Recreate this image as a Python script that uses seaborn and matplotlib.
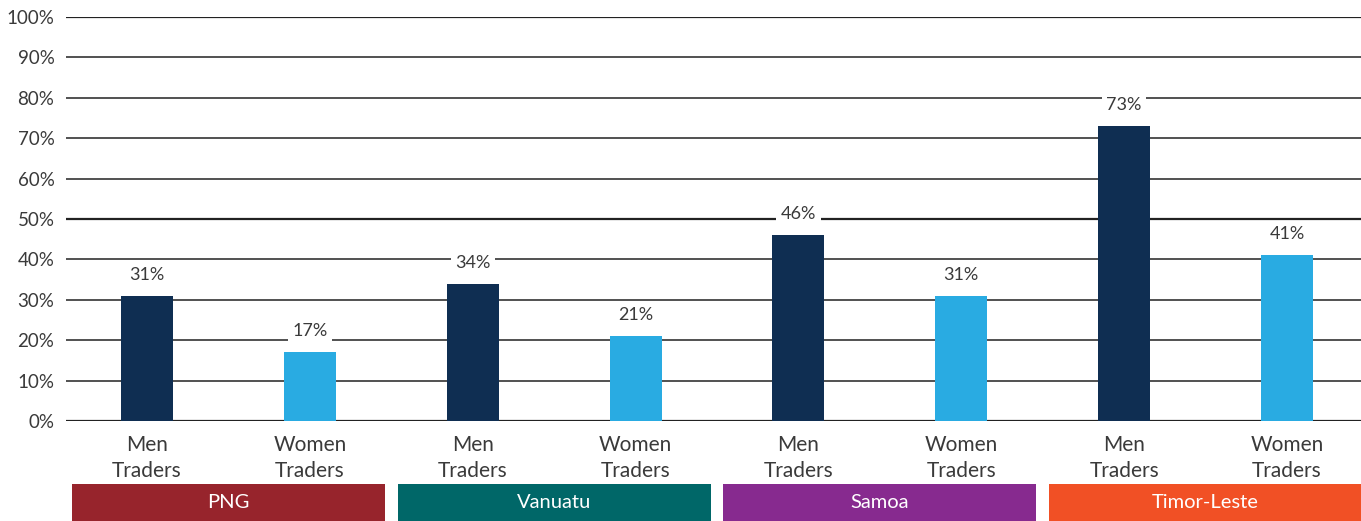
import matplotlib
matplotlib.use("Agg")
import matplotlib.pyplot as plt
import matplotlib.transforms as mtransforms
from matplotlib.patches import Rectangle
import seaborn as sns
import pandas as pd

countries = ["PNG", "Vanuatu", "Samoa", "Timor-Leste"]
country_colors = ["#97242C", "#006768", "#872A8F", "#F15025"]
groups = ["Men\nTraders", "Women\nTraders"]
men_values = [31, 34, 46, 73]
women_values = [17, 21, 31, 41]
bar_colors = {"Men": "#0F2E52", "Women": "#29ABE2"}
yticks = [0, 10, 20, 30, 40, 50, 60, 70, 80, 90, 100]

rows = []
for i, c in enumerate(countries):
    rows.append({"pos": 2 * i, "value": men_values[i], "gender": "Men", "country": c})
    rows.append({"pos": 2 * i + 1, "value": women_values[i], "gender": "Women", "country": c})
df = pd.DataFrame(rows)

sns.set_theme(style="white")
plt.rcParams["font.family"] = ["Lato", "DejaVu Sans"]
text_color = "#3a3a3a"

W, H = 1361, 521
step = 162.86
left_px = 147 - step / 2
fig = plt.figure(figsize=(W / 100, H / 100), dpi=100)
ax = fig.add_axes([left_px / W, 1 - 421 / H, 8 * step / W, (421 - 17) / H])

for y in yticks:
    ax.axhline(y, color="#222222", lw=1.1 if y not in (0, 50, 100) else 1.6, zorder=0)

sns.barplot(data=df, x="pos", y="value", hue="gender", palette=bar_colors,
            dodge=False, width=0.32, legend=False, ax=ax, zorder=2,
            order=list(range(8)), saturation=1, linewidth=0)

for _, r in df.iterrows():
    ax.text(r["pos"], r["value"] + 5.2, f"{r['value']}%", ha="center", va="center",
            fontsize=13, color=text_color, zorder=3,
            bbox=dict(boxstyle="square,pad=0.25", facecolor="white", edgecolor="none"))

ax.set_xlim(-0.5, 7.5)
ax.set_ylim(0, 100)
ax.set_yticks(yticks)
ax.set_yticklabels([f"{v}%" for v in yticks], fontsize=13.5, color=text_color)
ax.set_xticks(range(8))
ax.set_xticklabels(groups * len(countries), fontsize=15, color=text_color,
                   linespacing=1.4)
ax.tick_params(axis="both", length=0)
ax.tick_params(axis="x", pad=10)
ax.tick_params(axis="y", pad=8)
ax.set_xlabel("")
ax.set_ylabel("")
for s in ax.spines.values():
    s.set_visible(False)

trans = mtransforms.blended_transform_factory(ax.transData, ax.transAxes)
y0 = (421 - 521) / 404
h = (521 - 484) / 404
for i, (c, col) in enumerate(zip(countries, country_colors)):
    cx = 2 * i + 0.5
    rect = Rectangle((cx - 0.961, y0), 1.922, h, transform=trans, facecolor=col,
                     edgecolor="none", clip_on=False)
    ax.add_patch(rect)
    ax.text(cx, y0 + h / 2, c, transform=trans, ha="center", va="center",
            fontsize=14.5, color="white", clip_on=False)

fig.savefig("out.png", dpi=100)
